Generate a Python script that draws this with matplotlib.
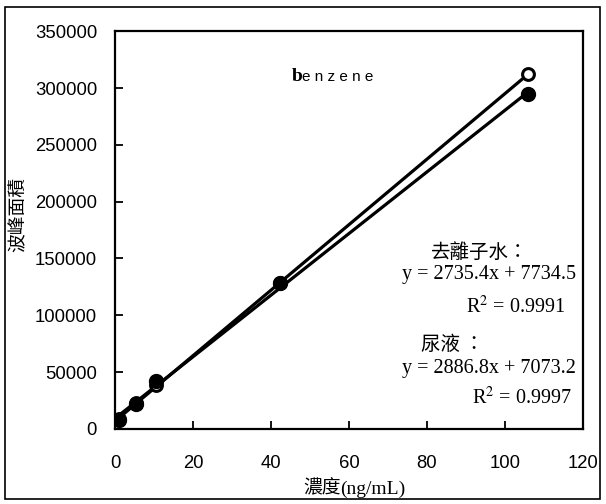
import numpy as np
import matplotlib.pyplot as plt
from matplotlib.patches import Rectangle

# concentration (ng/mL) and peak areas
conc = [1.06, 5.3, 10.6, 42.4, 106.0]
area_water = [8000, 22000, 42000, 128000, 295000]   # 去離子水 (filled)
area_urine = [8500, 22500, 39000, 128500, 312500]   # 尿液 (open)

xticks = [0, 20, 40, 60, 80, 100, 120]
yticks = [0, 50000, 100000, 150000, 200000, 250000, 300000, 350000]

cjk = ['Noto Sans CJK TC', 'DejaVu Sans']
serif = 'Liberation Serif'
sans = 'Liberation Sans'

fig = plt.figure(figsize=(6.06, 5.04), dpi=100)
ax = fig.add_axes([0.19, 0.149, 0.772, 0.789])

# outer frame around the whole figure
fig.patches.append(Rectangle((0.008, 0.010), 0.982, 0.976, transform=fig.transFigure,
                             fill=False, edgecolor='black', linewidth=1.2))

# linear trend lines from the data
xs = np.array([conc[0], conc[-1]])
for ys in (area_urine, area_water):
    m, b = np.polyfit(conc, ys, 1)
    ax.plot(xs, m * xs + b, color='black', linewidth=2.3, zorder=2)

ax.plot(conc, area_urine, linestyle='none', marker='o', markersize=8.5,
        markerfacecolor='white', markeredgecolor='black', markeredgewidth=2.2, zorder=3)
ax.plot(conc, area_water, linestyle='none', marker='o', markersize=10,
        color='black', zorder=4)

ax.set_xlim(0, 120)
ax.set_ylim(0, 350000)
ax.set_xticks(xticks)
ax.set_yticks(yticks)
ax.set_xticklabels([str(t) for t in xticks], fontfamily=sans, fontsize=13.3)
ax.set_yticklabels([str(t) for t in yticks], fontfamily=sans, fontsize=13.3)
ax.tick_params(axis='x', direction='in', length=6, width=1.3, pad=19)
ax.tick_params(axis='y', direction='in', length=6, width=1.3, pad=13)
for s in ax.spines.values():
    s.set_linewidth(1.6)

# title-like label inside the plot
ax.text(0.377, 0.886, 'b', transform=ax.transAxes, fontfamily=serif, fontweight='bold',
        fontsize=14, va='center', ha='left')
ax.text(0.399, 0.886, 'e n z e n e', transform=ax.transAxes, fontfamily=sans,
        fontsize=11, va='center', ha='left')

# regression annotations
ax.text(0.78, 0.443, '去離子水：', transform=ax.transAxes, family=cjk, fontsize=14,
        va='center', ha='center')
ax.text(0.985, 0.388, 'y = 2735.4x + 7734.5', transform=ax.transAxes, fontfamily=serif,
        fontsize=14.5, va='center', ha='right')
ax.text(0.963, 0.307, r'R$^2$ = 0.9991', transform=ax.transAxes, fontfamily=serif,
        fontsize=14.5, va='center', ha='right', math_fontfamily='stix')
ax.text(0.72, 0.212, '尿液 ：', transform=ax.transAxes, family=cjk, fontsize=14,
        va='center', ha='center')
ax.text(0.985, 0.151, 'y = 2886.8x + 7073.2', transform=ax.transAxes, fontfamily=serif,
        fontsize=14.5, va='center', ha='right')
ax.text(0.976, 0.078, r'R$^2$ = 0.9997', transform=ax.transAxes, fontfamily=serif,
        fontsize=14.5, va='center', ha='right', math_fontfamily='stix')

# axis labels
fig.text(0.03, 0.574, '波峰面積', rotation=90, family=cjk, fontsize=13.5,
         va='center', ha='center')
fig.text(0.562, 0.032, '濃度', family=cjk, fontsize=13.5, va='center', ha='right')
fig.text(0.562, 0.030, '(ng/mL)', fontfamily=serif, fontsize=14, va='center', ha='left')

fig.savefig('out.png', dpi=100)
